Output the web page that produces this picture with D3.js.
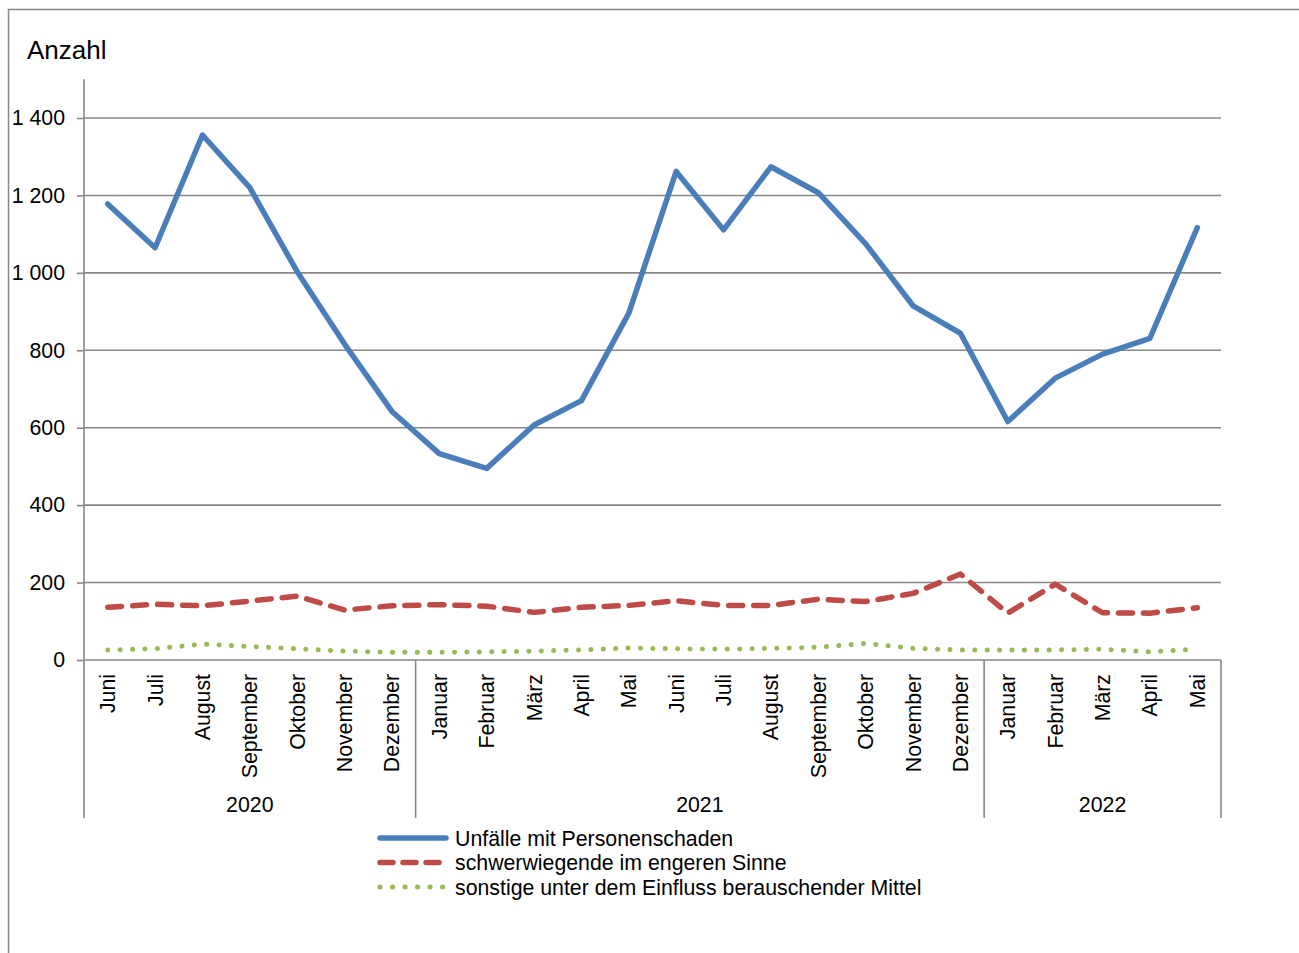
<!DOCTYPE html>
<html>
<head>
<meta charset="utf-8">
<script src="https://cdn.jsdelivr.net/npm/d3@7"></script>
<style>
  html, body { margin: 0; padding: 0; background: #fff; }
  svg { display: block; font-family: "Liberation Sans", Arial, sans-serif; }
</style>
</head>
<body>
<svg id="chart" width="1299" height="953"></svg>
<script>
const months = ["Juni","Juli","August","September","Oktober","November","Dezember",
  "Januar","Februar","März","April","Mai","Juni","Juli","August","September","Oktober","November","Dezember",
  "Januar","Februar","März","April","Mai"];
const years = ["2020","2021","2022"];
const yearCounts = [7, 12, 5];
const unfaelle = [1178,1065,1356,1220,1003,816,642,533,495,607,670,896,1262,1111,1274,1207,1075,915,844,616,728,790,831,1117];
const schwer = [136,144,140,152,165,129,140,143,139,123,136,141,153,141,141,157,151,172,222,121,196,122,121,135];
const sonstige = [26,29,41,35,29,23,20,20,21,23,26,31,29,28,30,33,43,30,26,26,26,28,21,28];
const seriesNames = ["Unfälle mit Personenschaden","schwerwiegende im engeren Sinne","sonstige unter dem Einfluss berauschender Mittel"];
const yTicks = [0,200,400,600,800,1000,1200,1400];

const colors = ["#4a7ebb", "#be4b48", "#98b954"];
const dashes = [null, "14,11", "0.1,12.3"];
const widths = [5.5, 5.5, 5];
const gridColor = "#878787";
const fs = 21.3;

const svg = d3.select("#chart");
const W = 1299, H = 953;

// outer frame
svg.append("rect").attr("x", 8.5).attr("y", 9.5).attr("width", W + 10).attr("height", H + 10)
  .attr("fill", "none").attr("stroke", gridColor).attr("stroke-width", 1.5);

const left = 84, right = 1221;
const x = d3.scaleBand().domain(d3.range(months.length)).range([left, right]);
const y = d3.scaleLinear().domain([0, 1400]).range([660, 118]);
const axisTop = y(1500);
const catBottom = 818;

// gridlines
svg.append("g").selectAll("line").data(yTicks.filter(d => d > 0)).join("line")
  .attr("x1", left).attr("x2", right).attr("y1", d => y(d)).attr("y2", d => y(d))
  .attr("stroke", gridColor).attr("stroke-width", 1.6);

// y axis
const yAxis = d3.axisLeft(y).tickValues(yTicks).tickSize(7).tickPadding(12)
  .tickFormat(d => d3.format(",")(d).replace(/,/g, " "));
const gy = svg.append("g").attr("transform", `translate(${left},0)`).call(yAxis);
gy.select(".domain").remove();
gy.selectAll(".tick line").attr("stroke", gridColor).attr("stroke-width", 1.6);
gy.selectAll(".tick text").attr("font-size", fs).attr("fill", "#000")
  .attr("font-family", "Liberation Sans, Arial, sans-serif");
svg.append("line").attr("x1", left).attr("x2", left).attr("y1", axisTop).attr("y2", catBottom)
  .attr("stroke", gridColor).attr("stroke-width", 1.6);

// x axis baseline
svg.append("line").attr("x1", left).attr("x2", right).attr("y1", y(0)).attr("y2", y(0))
  .attr("stroke", gridColor).attr("stroke-width", 1.6);

// year separators
let acc = 0;
const seps = [];
yearCounts.forEach(c => { acc += c; seps.push(acc); });
svg.append("g").selectAll("line").data(seps).join("line")
  .attr("x1", d => d < months.length ? x(d) : right).attr("x2", d => d < months.length ? x(d) : right)
  .attr("y1", y(0)).attr("y2", catBottom)
  .attr("stroke", gridColor).attr("stroke-width", 1.6);

// month labels
svg.append("g").selectAll("text").data(months).join("text")
  .attr("transform", (d, i) => `translate(${x(i) + x.bandwidth() / 2 + 7.5},${y(0) + 14}) rotate(-90)`)
  .attr("text-anchor", "end").attr("font-size", fs).attr("fill", "#000")
  .text(d => d);

// year labels
let start = 0;
years.forEach((yr, k) => {
  const s = start, e = start + yearCounts[k];
  const x0 = x(s), x1 = e < months.length ? x(e) : right;
  svg.append("text").attr("x", (x0 + x1) / 2).attr("y", 812)
    .attr("text-anchor", "middle").attr("font-size", fs).attr("fill", "#000").text(yr);
  start = e;
});

// y axis title
svg.append("text").attr("x", 27).attr("y", 59).attr("font-size", 26).attr("fill", "#000").text("Anzahl");

// lines
const line = d3.line().x((d, i) => x(i) + x.bandwidth() / 2).y(d => y(d));
[unfaelle, schwer, sonstige].forEach((data, k) => {
  const p = svg.append("path").datum(data).attr("d", line)
    .attr("fill", "none").attr("stroke", colors[k]).attr("stroke-width", widths[k])
    .attr("stroke-linejoin", "round").attr("stroke-linecap", "round");
  if (dashes[k]) p.attr("stroke-dasharray", dashes[k]);
});

// legend
const lg = svg.append("g");
seriesNames.forEach((name, k) => {
  const yy = 838 + k * 24.5;
  const l = lg.append("line").attr("x1", 380).attr("x2", 446).attr("y1", yy).attr("y2", yy)
    .attr("stroke", colors[k]).attr("stroke-width", widths[k]).attr("stroke-linecap", "round");
  if (k === 1) l.attr("stroke-dasharray", "13,10");
  if (k === 2) l.attr("stroke-dasharray", "0.1,12.4");
  lg.append("text").attr("x", 455).attr("y", yy + 7.5).attr("font-size", fs).attr("fill", "#000").text(name);
});
</script>
</body>
</html>
